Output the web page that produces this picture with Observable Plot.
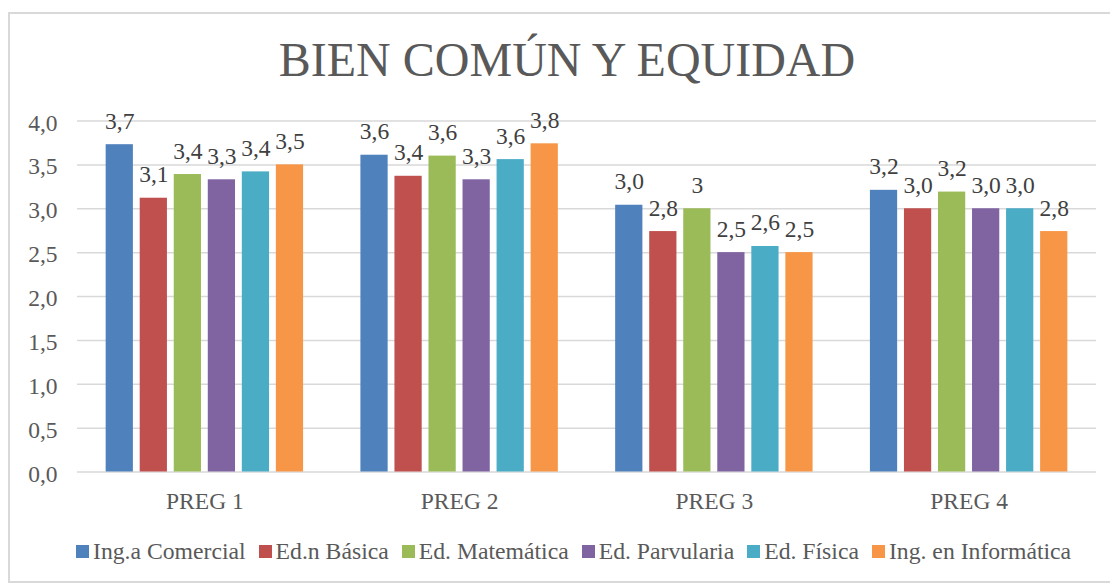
<!DOCTYPE html>
<html>
<head>
<meta charset="utf-8">
<script src="https://cdn.jsdelivr.net/npm/d3@7"></script>
<script src="https://cdn.jsdelivr.net/npm/@observablehq/plot@0.6"></script>
<style>
  html, body { margin: 0; padding: 0; background: #fff; overflow: hidden; }
  body { width: 1110px; height: 583px; position: relative; font-family: "Liberation Serif", "Times New Roman", serif; color: #595959; }
  #frame { position: absolute; left: 8px; top: 12px; width: 1130px; height: 571px; box-sizing: border-box; border: 2px solid #d9d9d9; border-right: none; }
  #title { position: absolute; left: 0; width: 1134px; top: 36px; text-align: center; font-size: 48px; line-height: 48px; color: #595959; white-space: nowrap; }
  #grid, #chart { position: absolute; left: 0; top: 100px; }
  #legend { position: absolute; left: 76px; top: 541px; height: 20px; display: flex; align-items: center; font-family: "Liberation Serif", serif; font-size: 23.7px; line-height: 20px; white-space: nowrap; }
  .item { display: flex; align-items: center; margin-right: 13px; }
  .sw { width: 13px; height: 13px; margin-right: 4px; }
</style>
</head>
<body>
<div id="frame"></div>
<div id="title">BIEN COMÚN Y EQUIDAD</div>
<div id="grid"></div>
<div id="chart"></div>
<div id="legend"></div>
<script>
const groups = ["PREG 1", "PREG 2", "PREG 3", "PREG 4"];
const series = ["Ing.a Comercial", "Ed.n Básica", "Ed. Matemática", "Ed. Parvularia", "Ed. Física", "Ing. en Informática"];
const colors = ["#4f81bd", "#c0504d", "#9bbb59", "#8064a2", "#4bacc6", "#f79646"];

const ingComercial   = [3.73, 3.61, 3.04, 3.21];
const edBasica       = [3.12, 3.37, 2.74, 3.00];
const edMatematica   = [3.39, 3.60, 3.00, 3.19];
const edParvularia   = [3.33, 3.33, 2.50, 3.00];
const edFisica       = [3.42, 3.56, 2.57, 3.00];
const ingInformatica = [3.50, 3.74, 2.50, 2.74];

const labelsComercial   = ["3,7", "3,6", "3,0", "3,2"];
const labelsBasica      = ["3,1", "3,4", "2,8", "3,0"];
const labelsMatematica  = ["3,4", "3,6", "3",   "3,2"];
const labelsParvularia  = ["3,3", "3,3", "2,5", "3,0"];
const labelsFisica      = ["3,4", "3,6", "2,6", "3,0"];
const labelsInformatica = ["3,5", "3,8", "2,5", "2,8"];

const yTicks = [0, 0.5, 1, 1.5, 2, 2.5, 3, 3.5, 4];
const yTickLabels = ["0,0", "0,5", "1,0", "1,5", "2,0", "2,5", "3,0", "3,5", "4,0"];

const valueSets = [ingComercial, edBasica, edMatematica, edParvularia, edFisica, ingInformatica];
const labelSets = [labelsComercial, labelsBasica, labelsMatematica, labelsParvularia, labelsFisica, labelsInformatica];

const data = [];
groups.forEach((g, gi) => {
  series.forEach((s, si) => {
    data.push({group: g, series: s, value: valueSets[si][gi], label: labelSets[si][gi]});
  });
});

const common = {
  width: 1110,
  height: 420,
  marginLeft: 77,
  marginRight: 14,
  marginTop: 20.5,
  marginBottom: 48.5,
  style: {fontFamily: "Liberation Serif", fontSize: "23.5px", color: "#595959", background: "transparent", overflow: "visible"}
};

// background: continuous gridlines and y axis
const grid = Plot.plot({
  ...common,
  y: {domain: [0, 4], axis: null},
  marks: [
    Plot.gridY(yTicks, {stroke: "#d9d9d9", strokeOpacity: 1, strokeWidth: 1.5}),
    Plot.axisY(yTicks, {tickSize: 0, tickPadding: 20, dy: 2, fill: "#595959", fontFamily: "Liberation Serif",
      tickFormat: (d) => yTickLabels[yTicks.indexOf(d)], label: null})
  ]
});
document.getElementById("grid").appendChild(grid);

// foreground: grouped bars
const chart = Plot.plot({
  ...common,
  fx: {domain: groups, paddingInner: 0.225, paddingOuter: 0.1125, round: false, label: null},
  x: {domain: series, paddingInner: 0.2, paddingOuter: 0, round: false, axis: null},
  y: {domain: [0, 4], axis: null},
  color: {domain: series, range: colors},
  marks: [
    Plot.barY(data, {fx: "group", x: "series", y: "value", fill: "series"}),
    Plot.text(data, {fx: "group", x: "series", y: "value", text: "label", lineAnchor: "bottom", dy: -16,
      fill: "#404040", fontFamily: "Liberation Serif"}),
    Plot.axisFx({anchor: "bottom", tickSize: 0, tickPadding: 20, label: null, fill: "#595959", fontFamily: "Liberation Serif"})
  ]
});
document.getElementById("chart").appendChild(chart);

const legend = document.getElementById("legend");
series.forEach((s, i) => {
  const item = document.createElement("div");
  item.className = "item";
  const sw = document.createElement("span");
  sw.className = "sw";
  sw.style.background = colors[i];
  const t = document.createElement("span");
  t.textContent = s;
  item.appendChild(sw);
  item.appendChild(t);
  legend.appendChild(item);
});
</script>
</body>
</html>
